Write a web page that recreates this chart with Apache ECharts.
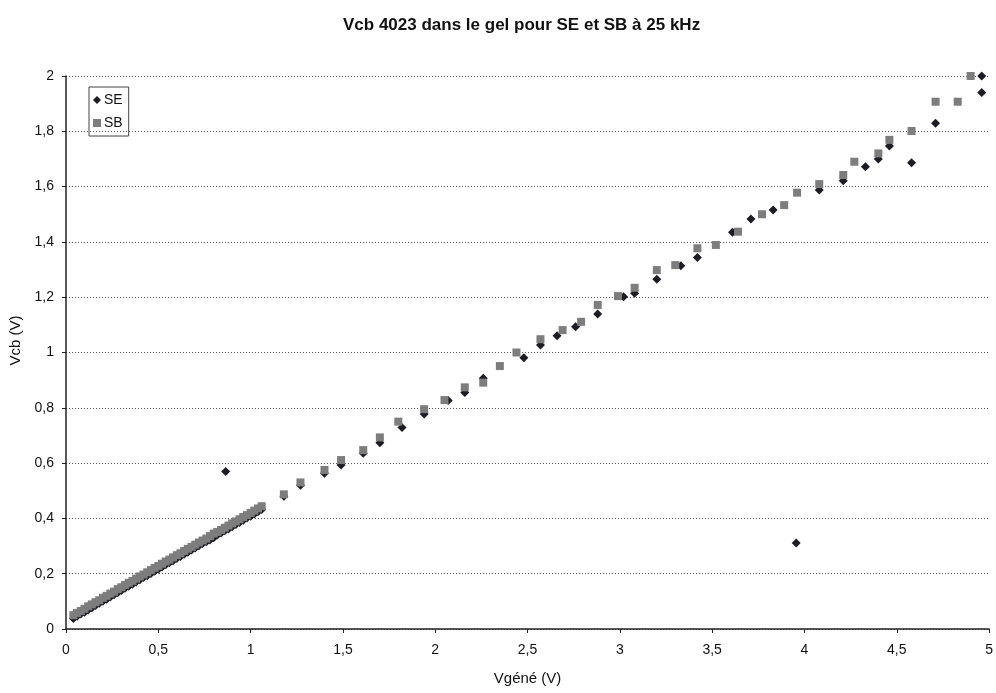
<!DOCTYPE html>
<html>
<head>
<meta charset="utf-8">
<script src="https://cdn.jsdelivr.net/npm/echarts@6/dist/echarts.min.js"></script>
<style>
html,body{margin:0;padding:0;background:#fff;}
#c{width:996px;height:693px;}
</style>
</head>
<body>
<div id="c"></div>
<script>
// ---- Data ----
var titleText = 'Vcb 4023 dans le gel pour SE et SB à 25 kHz';
var xName = 'Vgéné (V)';
var yName = 'Vcb (V)';
var seriesNames = ['SE', 'SB'];

// dense low-voltage segment (both series)
var denseX = [0.04,0.06,0.08,0.10,0.12,0.14,0.16,0.18,0.20,0.22,0.24,0.26,0.28,0.30,0.32,0.34,0.36,0.38,0.40,0.42,0.44,0.46,0.48,0.50,0.52,0.54,0.56,0.58,0.60,0.62,0.64,0.66,0.68,0.70,0.72,0.74,0.76,0.78,0.80,0.82,0.84,0.86,0.88,0.90,0.92,0.94,0.96,0.98,1.00,1.02,1.04,1.06];
var denseSB = [0.050,0.058,0.065,0.073,0.082,0.089,0.097,0.104,0.113,0.120,0.128,0.135,0.144,0.151,0.159,0.167,0.174,0.182,0.190,0.197,0.205,0.213,0.221,0.228,0.236,0.244,0.251,0.259,0.267,0.274,0.282,0.290,0.297,0.305,0.313,0.320,0.327,0.336,0.345,0.351,0.358,0.366,0.374,0.382,0.389,0.397,0.405,0.412,0.420,0.428,0.436,0.444];
var denseSE = [0.038,0.046,0.054,0.061,0.069,0.077,0.085,0.093,0.100,0.108,0.116,0.124,0.131,0.139,0.147,0.155,0.162,0.170,0.178,0.186,0.193,0.201,0.209,0.216,0.224,0.232,0.240,0.247,0.255,0.262,0.270,0.278,0.286,0.293,0.301,0.309,0.316,0.322,0.330,0.340,0.347,0.355,0.362,0.370,0.378,0.385,0.393,0.401,0.408,0.416,0.424,0.432];

// discrete points
var sbX = [1.18,1.27,1.40,1.49,1.61,1.70,1.80,1.94,2.05,2.16,2.26,2.35,2.44,2.57,2.69,2.79,2.88,2.99,3.08,3.20,3.30,3.42,3.52,3.64,3.77,3.89,3.96,4.08,4.21,4.27,4.40,4.46,4.58,4.71,4.83,4.90];
var sbY = [0.487,0.530,0.575,0.611,0.647,0.693,0.750,0.795,0.828,0.874,0.891,0.951,1.000,1.048,1.081,1.111,1.172,1.204,1.234,1.298,1.316,1.377,1.389,1.437,1.500,1.533,1.578,1.609,1.642,1.690,1.720,1.769,1.801,1.907,1.907,2.000];
var seX = [0.865,1.18,1.27,1.40,1.49,1.61,1.70,1.82,1.94,2.07,2.16,2.26,2.48,2.57,2.66,2.76,2.88,3.02,3.08,3.20,3.33,3.42,3.61,3.71,3.83,3.955,4.08,4.21,4.33,4.40,4.46,4.58,4.71,4.96,4.96];
var seY = [0.570,0.480,0.520,0.563,0.593,0.636,0.674,0.729,0.778,0.826,0.855,0.907,0.981,1.027,1.061,1.093,1.139,1.202,1.214,1.265,1.314,1.344,1.435,1.483,1.515,0.311,1.588,1.621,1.672,1.700,1.747,1.686,1.829,2.000,1.940];

function pairs(xs, ys){ var o=[]; for(var i=0;i<xs.length;i++){o.push([xs[i],ys[i]]);} return o; }
var sbData = pairs(denseX, denseSB).concat(pairs(sbX, sbY));
var seData = pairs(denseX, denseSE).concat(pairs(seX, seY));

var font = '"Liberation Sans", Arial, sans-serif';
function comma(v){ return String(Math.round(v*10)/10).replace('.', ','); }

var chart = echarts.init(document.getElementById('c'), null, {renderer:'canvas'});
chart.setOption({
  animation: false,
  backgroundColor: '#ffffff',
  title: {
    text: titleText,
    left: 338, top: 12,
    textStyle: {fontFamily: font, fontSize: 17, fontWeight: 'bold', color: '#111'}
  },
  legend: {
    data: seriesNames,
    orient: 'vertical',
    left: 89, top: 87,
    padding: [5, 6, 5, 4],
    borderColor: '#444', borderWidth: 1,
    itemWidth: 8, itemHeight: 8, itemGap: 7,
    textStyle: {fontFamily: font, fontSize: 14, color: '#111', lineHeight: 16, padding: [0,0,0,-2]}
  },
  grid: {left: 66, right: 5, top: 76, bottom: 64, containLabel: false},
  xAxis: {
    type: 'value', min: 0, max: 5, interval: 0.5,
    name: xName, nameLocation: 'middle', nameGap: 42,
    nameTextStyle: {fontFamily: font, fontSize: 15, color: '#111'},
    axisLine: {show: true, onZero: false, lineStyle: {color: '#222', width: 1.5}},
    axisTick: {show: true, length: 4, lineStyle: {color: '#222'}},
    axisLabel: {fontFamily: font, fontSize: 14, color: '#111', margin: 14, formatter: comma},
    splitLine: {show: false}
  },
  yAxis: {
    type: 'value', min: 0, max: 2, interval: 0.2,
    name: yName, nameLocation: 'middle', nameGap: 42, nameRotate: 90,
    nameTextStyle: {fontFamily: font, fontSize: 15, color: '#111', padding: [0,0,0,24]},
    axisLine: {show: true, lineStyle: {color: '#222', width: 1.5}},
    axisTick: {show: true, length: 4, lineStyle: {color: '#222'}},
    axisLabel: {fontFamily: font, fontSize: 14, color: '#111', margin: 12, formatter: comma},
    splitLine: {show: true, lineStyle: {color: '#555', width: 1, type: [1, 2]}}
  },
  series: [
    {
      name: 'SE', type: 'scatter', symbol: 'diamond', symbolSize: 9,
      itemStyle: {color: '#1c1c24', opacity: 1},
      data: seData, z: 2
    },
    {
      name: 'SB', type: 'scatter', symbol: 'rect', symbolSize: 8,
      itemStyle: {color: '#7d7d7d', opacity: 1},
      data: sbData, z: 3
    }
  ]
});
</script>
</body>
</html>
